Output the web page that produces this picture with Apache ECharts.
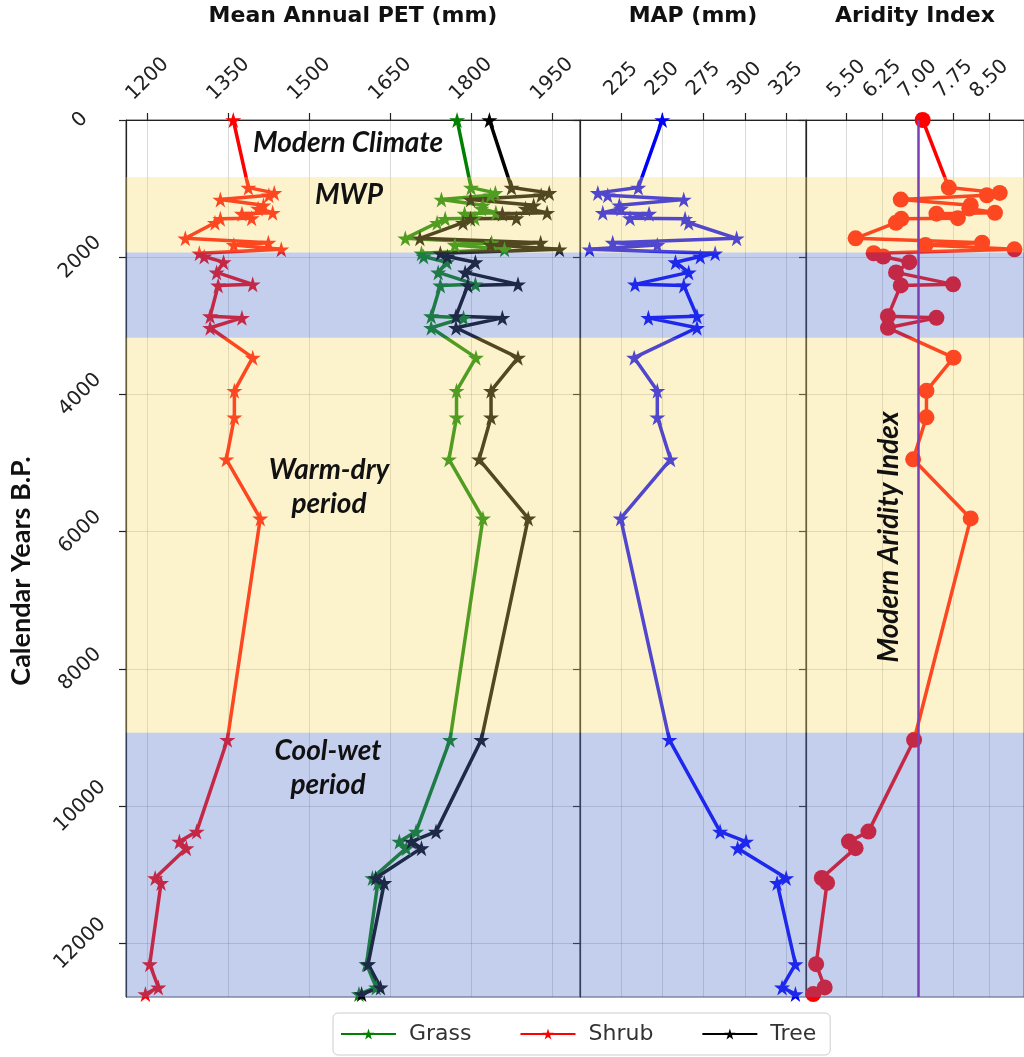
<!DOCTYPE html>
<html>
<head>
<meta charset="utf-8">
<script src="https://cdn.jsdelivr.net/npm/echarts@6/dist/echarts.min.js"></script>
<style>
html,body{margin:0;padding:0;background:#fff}
#chart{width:1024px;height:1057px}
</style>
</head>
<body>
<div id="chart"></div>
<script>
// sample ages, calendar years B.P.
var ages = [0, 985, 1062, 1097, 1159, 1242, 1290, 1352, 1365, 1430, 1440, 1497, 1724, 1787, 1821, 1884, 1942, 1989, 2072, 2221, 2395, 2410, 2859, 2883, 3028, 3463, 3946, 4333, 4945, 5806, 9032, 10370, 10515, 10611, 11046, 11118, 12302, 12640, 12737];
// mean annual PET (mm) per vegetation type
var grass = [1774, 1800, 1845, 1836, 1745, 1822, 1819, 1846, 1788, 1807, 1752, 1737, 1678, 1838, 1770, 1862, 1708, 1712, 1755, 1739, 1808, 1743, 1726, 1786, 1726, 1809, 1773, 1773, 1759, 1822, 1761, 1698, 1667, 1680, 1617, 1627, 1606, 1624, 1592];
var shrub = [1359, 1387, 1435, 1425, 1335, 1415, 1405, 1432, 1375, 1393, 1335, 1325, 1270, 1424, 1360, 1448, 1296, 1305, 1341, 1328, 1395, 1331, 1316, 1375, 1316, 1395, 1361, 1361, 1346, 1409, 1348, 1291, 1259, 1272, 1214, 1225, 1204, 1220, 1196];
var tree = [1834, 1875, 1945, 1930, 1799, 1916, 1901, 1941, 1858, 1884, 1799, 1785, 1705, 1929, 1836, 1964, 1743, 1756, 1808, 1789, 1887, 1794, 1772, 1858, 1772, 1887, 1837, 1837, 1815, 1906, 1819, 1735, 1689, 1708, 1623, 1639, 1609, 1632, 1597];
// MAP (mm)
var map = [250, 235.5, 211, 217, 263, 224, 225, 214, 242, 230.5, 263.8, 266, 295, 220, 247, 206, 282, 273, 258, 266, 233.5, 263, 271, 241.6, 271, 233, 247, 247, 255, 224.8, 254.3, 285, 300.7, 295.6, 325, 319.5, 330.6, 322.5, 330.6];
// aridity index
var aridity = [7.1, 7.65, 8.72, 8.45, 6.64, 8.11, 8.08, 8.62, 7.39, 7.84, 6.65, 6.54, 5.69, 8.35, 7.16, 9.03, 6.07, 6.27, 6.82, 6.54, 7.74, 6.64, 6.37, 7.39, 6.37, 7.75, 7.18, 7.18, 6.9, 8.11, 6.92, 5.96, 5.55, 5.69, 4.98, 5.09, 4.86, 5.04, 4.8];
var modernAI = 7.0;

// tick labels
var petTicks = [1200, 1350, 1500, 1650, 1800, 1950];
var mapTicks = [225, 250, 275, 300, 325];
var aiTicks = [5.5, 6.25, 7, 7.75, 8.5];
var yearTicks = [0, 2000, 4000, 6000, 8000, 10000, 12000];

// climate periods (years B.P.)
var warmBands = [[830, 1932], [3173, 8930]];
var coolBands = [[1932, 3173], [8930, 12780]];

var STAR = 'path://M50,0L61,35L98,35L68,57L79,91L50,70L21,91L32,57L2,35L39,35Z';
var WARM = 'rgba(245,215,100,0.33)';
var COOL = 'rgba(87,116,203,0.35)';

function pairs(xs){
	return xs.map(function(v,i){ return [v, ages[i]]; });
}
function bandData(){
	var out = [];
	warmBands.forEach(function(b){ out.push([{yAxis:b[0], itemStyle:{color:WARM}}, {yAxis:b[1]}]); });
	coolBands.forEach(function(b){ out.push([{yAxis:b[0], itemStyle:{color:COOL}}, {yAxis:b[1]}]); });
	return out;
}

var grids = [
	{left:126, top:116, width:454, height:881},
	{left:580, top:116, width:226, height:881},
	{left:806, top:116, width:224, height:881}
];
grids.forEach(function(g){
	g.show = true; g.borderColor = '#555'; g.borderWidth = 1; g.backgroundColor = 'transparent';
});

var tickFont = {fontSize:20, fontFamily:'DejaVu Sans', color:'#222'};
function xAxis(idx, name, min, max, ticks, fmt){
	return {
		type:'value', gridIndex:idx, position:'top', min:min, max:max,
		name:name, nameLocation:'middle', nameGap:93,
		nameTextStyle:{fontSize:22, fontWeight:'bold', fontFamily:'DejaVu Sans', color:'#111'},
		axisLine:{show:true, lineStyle:{color:'#222', width:1.2}},
		axisTick:{show:true, length:7, customValues:ticks, lineStyle:{color:'#222', width:1.2}},
		axisLabel:Object.assign({customValues:ticks, rotate:45, align:'center', verticalAlign:'middle', margin:41,
			formatter:fmt || function(v){ return String(v); }}, tickFont),
		splitLine:{show:true, lineStyle:{color:'rgba(0,0,0,0.15)', width:1}}
	};
}
function yAxis(idx){
	return {
		type:'value', gridIndex:idx, inverse:true, min:0, max:12780,
		axisLine:{show:true, lineStyle:{color:'#222', width:1.2}},
		axisTick:{show:true, length:7, customValues:yearTicks, lineStyle:{color:'#222', width:1.2}},
		axisLabel:Object.assign({show:idx===0, customValues:yearTicks, rotate:45, align:'center', verticalAlign:'middle', margin:46,
			formatter:function(v){ return String(v); }}, tickFont),
		splitLine:{show:true, lineStyle:{color:'rgba(0,0,0,0.15)', width:1}}
	};
}

function lineSeries(name, idx, values, color, symbol, size){
	return {
		name:name, type:'line', xAxisIndex:idx, yAxisIndex:idx, data:pairs(values),
		symbol:symbol, symbolSize:size, color:color,
		lineStyle:{color:color, width:3.5}, itemStyle:{color:color},
		z:2, silent:true
	};
}

// period bands are laid over the curves, tinting them like the original
var overlays = [0,1,2].map(function(i){
	return {
		type:'line', xAxisIndex:i, yAxisIndex:i, data:[], z:5, silent:true,
		markArea:{silent:true, z:5, data:bandData()}
	};
});
overlays.push({
	type:'line', xAxisIndex:2, yAxisIndex:2, data:[], z:6, silent:true,
	markLine:{silent:true, z:7, symbol:'none', label:{show:false},
		lineStyle:{color:'#7b3fb5', width:2.5, type:'solid'},
		data:[{xAxis:modernAI}]}
});

var annoFont = 'italic bold 28px Lato';
var chart = echarts.init(document.getElementById('chart'));
chart.setOption({
	animation:false,
	backgroundColor:'#fff',
	grid:grids,
	xAxis:[
		xAxis(0, 'Mean Annual PET (mm)', 1160, 2002, petTicks),
		xAxis(1, 'MAP (mm)', 200.2, 337, mapTicks),
		xAxis(2, 'Aridity Index', 4.647, 9.231, aiTicks, function(v){ return v.toFixed(2); })
	],
	yAxis:[yAxis(0), yAxis(1), yAxis(2)],
	legend:{
		data:['Grass','Shrub','Tree'], left:333, top:1013, orient:'horizontal',
		itemWidth:55, itemHeight:14, itemGap:48,
		padding:[10,14,10,7], borderColor:'#ccc', borderWidth:1, borderRadius:5,
		textStyle:{fontSize:22, fontFamily:'DejaVu Sans', color:'#333', padding:[0,0,0,8]}
	},
	series:[
		lineSeries('Grass', 0, grass, '#008000', STAR, 16),
		lineSeries('Shrub', 0, shrub, '#ff0000', STAR, 16),
		lineSeries('Tree', 0, tree, '#000000', STAR, 16),
		lineSeries('MAP', 1, map, '#0000ff', STAR, 16),
		lineSeries('Aridity', 2, aridity, '#ff0000', 'circle', 16)
	].concat(overlays),
	graphic:[
		{type:'text', x:348, y:143, z:100, silent:true, style:{text:'Modern Climate', font:annoFont, fill:'#111', align:'center', verticalAlign:'middle'}},
		{type:'text', x:349, y:195, z:100, silent:true, style:{text:'MWP', font:annoFont, fill:'#111', align:'center', verticalAlign:'middle'}},
		{type:'text', x:329, y:487, z:100, silent:true, style:{text:'Warm-dry\nperiod', font:annoFont, lineHeight:34, fill:'#111', align:'center', verticalAlign:'middle'}},
		{type:'text', x:328, y:768, z:100, silent:true, style:{text:'Cool-wet\nperiod', font:annoFont, lineHeight:34, fill:'#111', align:'center', verticalAlign:'middle'}},
		{type:'text', x:889, y:537, rotation:Math.PI/2, z:100, silent:true, style:{text:'Modern Aridity Index', font:'italic bold 28px Lato', fill:'#111', align:'center', verticalAlign:'middle'}},
		{type:'text', x:21, y:571, rotation:Math.PI/2, z:100, silent:true, style:{text:'Calendar Years B.P.', font:'bold 27px Lato', fill:'#111', align:'center', verticalAlign:'middle'}}
	]
});
</script>
</body>
</html>
